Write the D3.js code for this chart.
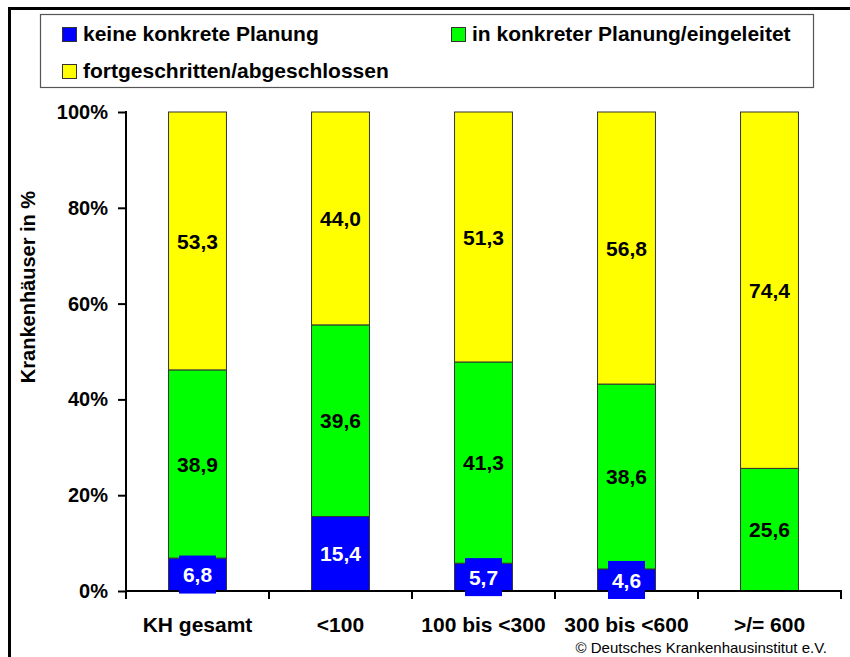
<!DOCTYPE html>
<html><head><meta charset="utf-8">
<script src="https://cdn.jsdelivr.net/npm/d3@7/dist/d3.min.js"></script>
<style>body{margin:0;background:#fff}svg{display:block;font-family:"Liberation Sans",Arial,sans-serif}</style>
</head><body>
<script>
const categories = ["KH gesamt", "<100", "100 bis <300", "300 bis <600", ">/= 600"];
const seriesNames = ["keine konkrete Planung", "in konkreter Planung/eingeleitet", "fortgeschritten/abgeschlossen"];
const seriesColors = ["#0000FF", "#00FF00", "#FFFF00"];
const keineKonkrete = [6.8, 15.4, 5.7, 4.6, 0];
const inKonkreter = [38.9, 39.6, 41.3, 38.6, 25.6];
const fortgeschritten = [53.3, 44.0, 51.3, 56.8, 74.4];
const yTicks = [0, 20, 40, 60, 80, 100];
const yTitle = "Krankenhäuser in %";
const credit = "© Deutsches Krankenhausinstitut e.V.";

const W = 850, H = 657;
const svg = d3.select("body").append("svg").attr("width", W).attr("height", H);

// outer frame
svg.append("path").attr("d", "M9.5,657 V8.5 H850").attr("fill", "none").attr("stroke", "#000").attr("stroke-width", 3);

const x = d3.scaleBand().domain(categories).range([126, 841]).paddingInner(0.595).paddingOuter(0.2975);
const y = d3.scaleLinear().domain([0, 100]).range([591, 112]);

const seriesValues = [keineKonkrete, inKonkreter, fortgeschritten];
const rows = categories.map((c, i) => {
  const total = seriesValues.reduce((s, arr) => s + arr[i], 0);
  const r = {cat: c};
  seriesValues.forEach((arr, k) => { r["s" + k] = arr[i] / total * 100; r["v" + k] = arr[i]; });
  return r;
});
const stack = d3.stack().keys(["s0", "s1", "s2"])(rows);

// bars
stack.forEach((layer, k) => {
  svg.append("g").selectAll("rect").data(layer).join("rect")
    .attr("x", d => x(d.data.cat))
    .attr("width", x.bandwidth())
    .attr("y", d => y(d[1]))
    .attr("height", d => Math.max(0, y(d[0]) - y(d[1])))
    .attr("fill", seriesColors[k])
    .attr("stroke", d => (d[1] - d[0]) > 0 ? "#333" : "none")
    .attr("stroke-width", 1);
});

// y axis
const yAxis = svg.append("g").attr("transform", "translate(126,0)")
  .call(d3.axisLeft(y).tickValues(yTicks).tickFormat(d => d + "%").tickSize(8).tickPadding(10));
yAxis.select(".domain").attr("stroke", "#000").attr("stroke-width", 2).attr("d", "M0,111V592");
yAxis.selectAll(".tick line").attr("stroke", "#000").attr("stroke-width", 2);
yAxis.selectAll(".tick text").attr("font-size", 20).attr("font-weight", "bold").attr("fill", "#000")
  .attr("font-family", "Liberation Sans, Arial, sans-serif");

// x axis
const xAxis = svg.append("g").attr("transform", "translate(0,591)");
xAxis.append("line").attr("x1", 125).attr("x2", 842).attr("stroke", "#000").attr("stroke-width", 2);
const edges = d3.range(categories.length + 1).map(i => 126 + i * x.step());
xAxis.selectAll("line.tk").data(edges).join("line").attr("class", "tk")
  .attr("x1", d => d).attr("x2", d => d).attr("y1", 0).attr("y2", 8)
  .attr("stroke", "#000").attr("stroke-width", 2);
xAxis.selectAll("text").data(categories).join("text")
  .attr("x", d => x(d) + x.bandwidth() / 2).attr("y", 41)
  .attr("text-anchor", "middle").attr("font-size", 21).attr("font-weight", "bold").text(d => d);

// y title
svg.append("text").attr("transform", "translate(35,287) rotate(-90)")
  .attr("text-anchor", "middle").attr("font-size", 20).attr("font-weight", "bold").text(yTitle);

// data labels
stack.forEach((layer, k) => {
  const g = svg.append("g");
  const data = layer.filter(d => d.data["v" + k] > 0);
  const lg = g.selectAll("g").data(data).join("g")
    .attr("transform", d => `translate(${x(d.data.cat) + x.bandwidth() / 2},${(y(d[0]) + y(d[1])) / 2})`);
  if (k === 0) {
    lg.append("rect").attr("x", -18.5).attr("y", -19).attr("width", 37).attr("height", 38).attr("fill", seriesColors[k]);
  }
  lg.append("text").attr("text-anchor", "middle").attr("dy", "0.36em")
    .attr("font-size", 21).attr("font-weight", "bold")
    .attr("fill", k === 0 ? "#fff" : "#000")
    .text(d => d3.format(".1f")(d.data["v" + k]).replace(".", ","));
});

// legend
svg.append("rect").attr("x", 40.5).attr("y", 14.5).attr("width", 773).attr("height", 73)
  .attr("fill", "#fff").attr("stroke", "#555").attr("stroke-width", 1.2);
const legPos = [[62, 41], [451, 41], [62, 78]];
seriesNames.forEach((n, k) => {
  const [lx, ly] = legPos[k];
  svg.append("rect").attr("x", lx + 0.5).attr("y", ly - 13.5).attr("width", 14).attr("height", 14)
    .attr("fill", seriesColors[k]).attr("stroke", "#333").attr("stroke-width", 1);
  svg.append("text").attr("x", lx + 21).attr("y", ly).attr("font-size", 21).attr("font-weight", "bold").text(n);
});

// credit
svg.append("text").attr("x", 827).attr("y", 653).attr("text-anchor", "end").attr("font-size", 15).text(credit);
</script>
</body></html>
